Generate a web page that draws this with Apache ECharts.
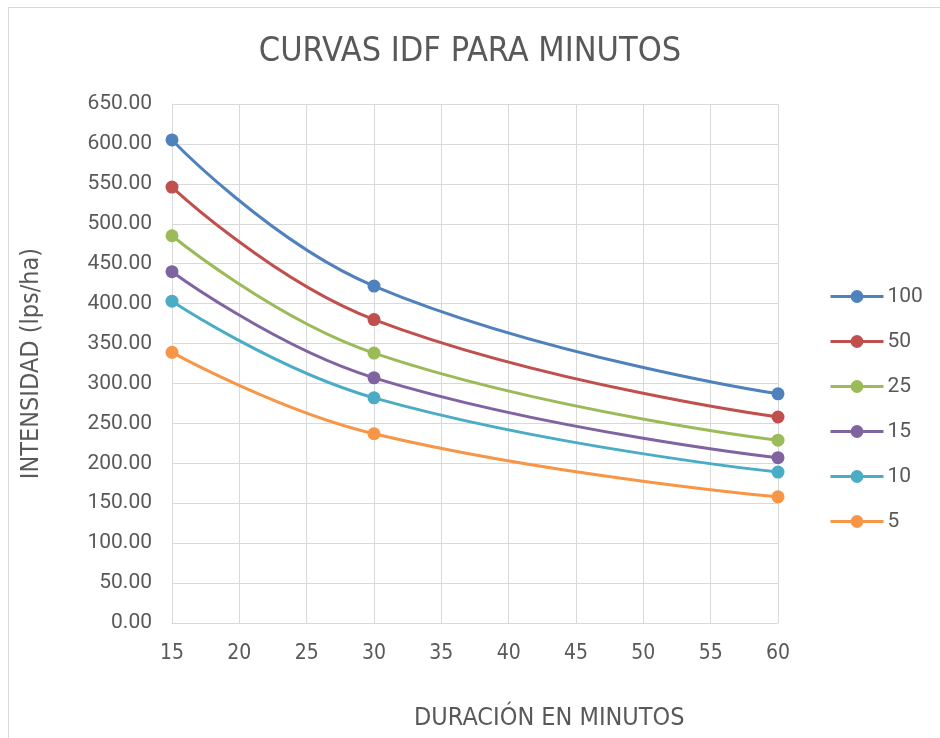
<!DOCTYPE html>
<html>
<head>
<meta charset="utf-8">
<script src="https://cdn.jsdelivr.net/npm/echarts@6/dist/echarts.min.js"></script>
<style>
  html, body { margin: 0; padding: 0; background: #fff; }
  #chart { width: 940px; height: 738px; }
</style>
</head>
<body>
<div id="chart"></div>
<script>
// duraciones (minutos) y periodos de retorno
var duraciones = [15, 30, 60];
var periodos = ['100', '50', '25', '15', '10', '5'];
var i100 = [605, 422, 287];
var i50 = [546, 380, 258];
var i25 = [485, 338, 229];
var i15 = [440, 307, 207];
var i10 = [403, 282, 189];
var i5 = [339, 237, 158];
var colores = ['#4f81bd', '#c0504d', '#9bbb59', '#8064a2', '#4bacc6', '#f79646'];

var valores = [i100, i50, i25, i15, i10, i5];
var fuenteTit = '"DejaVu Sans Condensed", "Liberation Sans Narrow", sans-serif';
var fuente = 'Roboto, "Liberation Sans", sans-serif';

var series = periodos.map(function (p, k) {
    return {
        name: p,
        type: 'line',
        smooth: 0.45,
        symbol: 'circle',
        symbolSize: 13,
        data: duraciones.map(function (d, j) { return [d, valores[k][j]]; }),
        lineStyle: { width: 3, color: colores[k] },
        itemStyle: { color: colores[k] }
    };
});

var chart = echarts.init(document.getElementById('chart'));
chart.setOption({
    animation: false,
    title: {
        text: 'CURVAS IDF PARA MINUTOS',
        left: 'center',
        top: 30,
        textStyle: { fontFamily: fuenteTit, fontSize: 34, fontWeight: 'normal', color: '#595959' }
    },
    grid: { left: 172, right: 162, top: 104, bottom: 115 },
    legend: {
        orient: 'vertical',
        left: 824,
        top: 281,
        itemGap: 24,
        itemWidth: 53,
        itemHeight: 16,
        lineStyle: { width: 3 },
        textStyle: { fontFamily: fuente, fontSize: 21, color: '#595959', padding: [0, 0, 0, -1] },
        data: periodos
    },
    xAxis: {
        type: 'value',
        min: 15,
        max: 60,
        interval: 5,
        axisLine: { show: true, lineStyle: { color: '#d9d9d9', width: 1 } },
        axisTick: { show: false },
        axisLabel: { fontFamily: fuenteTit, fontSize: 21, color: '#595959', margin: 20 },
        splitLine: { show: true, lineStyle: { color: '#d9d9d9', width: 1 } }
    },
    yAxis: {
        type: 'value',
        min: 0,
        max: 650,
        interval: 50,
        name: 'INTENSIDAD (lps/ha)',
        nameLocation: 'middle',
        nameGap: 128,
        nameTextStyle: { fontFamily: fuenteTit, fontSize: 25, color: '#595959' },
        axisLine: { show: true, lineStyle: { color: '#d9d9d9', width: 1 } },
        axisTick: { show: false },
        axisLabel: {
            fontFamily: fuente, fontSize: 21, color: '#595959', margin: 20,
            formatter: function (v) { return v.toFixed(2); }
        },
        splitLine: { show: true, lineStyle: { color: '#d9d9d9', width: 1 } }
    },
    graphic: [
        {
            type: 'rect',
            shape: { x: 8.5, y: 7.5, width: 940, height: 740 },
            style: { fill: 'none', stroke: '#d9d9d9', lineWidth: 1 },
            silent: true
        },
        {
            type: 'text',
            left: 414,
            top: 706,
            style: { text: 'DURACIÓN EN MINUTOS', fontFamily: fuenteTit, fontSize: 25, fill: '#595959' }
        }
    ],
    series: series
});
</script>
</body>
</html>
